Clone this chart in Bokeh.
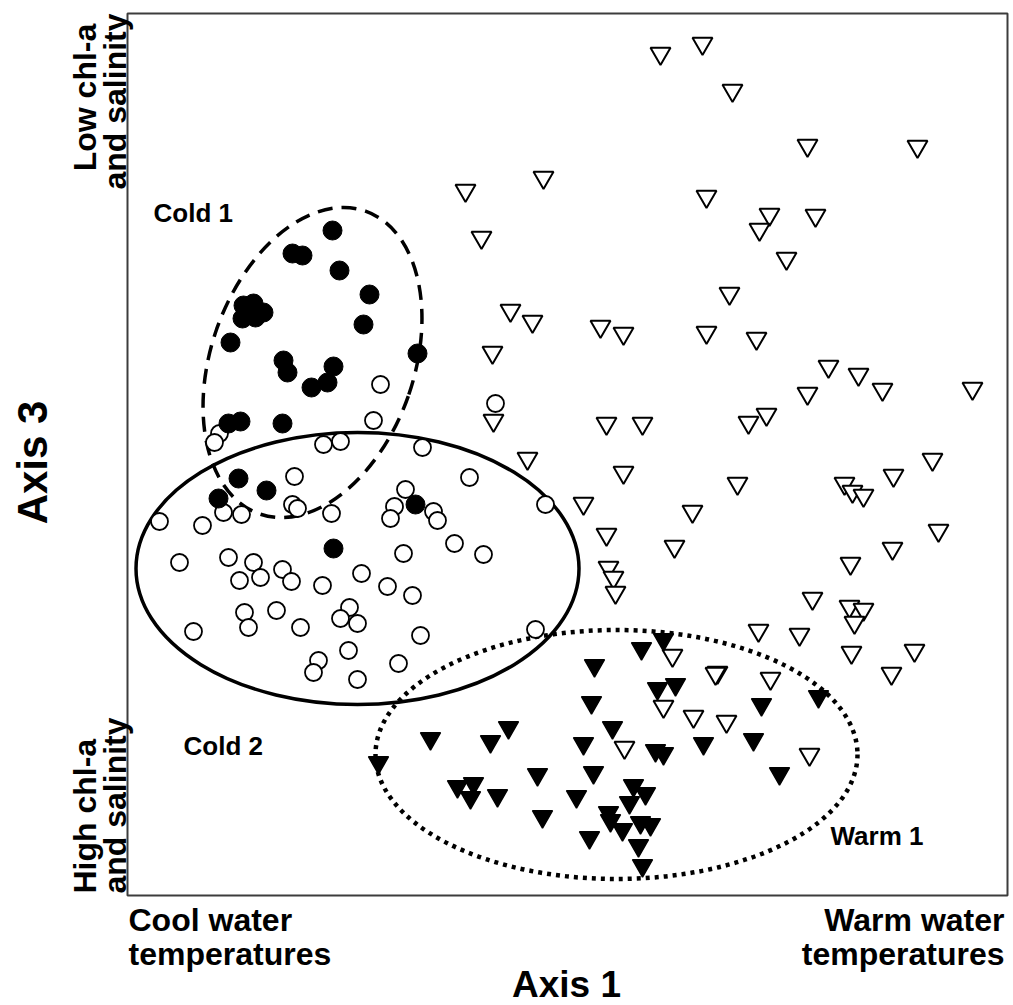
from bokeh.plotting import figure
from bokeh.models import Range1d, Label
from bokeh.embed import file_html
from bokeh.resources import INLINE

# ---- data (positions, in picture units) ----
warm_open_x = [660, 702, 732, 807, 917, 465, 543, 706, 769, 759, 815, 481, 786, 729, 510, 532, 600, 623,
               706, 492, 756, 828, 858, 882, 972, 807, 766, 748, 493, 606, 642, 527, 623, 932, 893, 737,
               844, 852, 863, 583, 692, 938, 606, 674, 892, 608, 613, 615, 850, 812, 849, 863, 854, 758,
               799, 851, 914, 717, 770, 891, 672, 715, 663, 693, 624, 726, 809]
warm_open_y = [53, 43, 90, 145, 146, 190, 177, 196, 214, 229, 215, 237, 258, 293, 310, 321, 326, 333,
               332, 352, 338, 366, 374, 389, 388, 393, 414, 422, 420, 423, 423, 458, 472, 459, 475, 483,
               483, 491, 495, 503, 511, 530, 534, 546, 548, 567, 577, 592, 563, 598, 606, 609, 622, 630,
               634, 652, 650, 672, 678, 673, 655, 673, 706, 716, 747, 721, 754]

cold1_x = [332, 292, 302, 339, 369, 243, 253, 263, 242, 255, 363, 230, 417, 283, 287, 333, 327, 311,
           228, 240, 282, 238, 266, 218, 415, 333]
cold1_y = [230, 253, 255, 270, 294, 305, 303, 312, 318, 317, 324, 342, 353, 360, 372, 366, 382, 387,
           423, 421, 423, 478, 490, 498, 504, 548]

cold2_x = [380, 373, 219, 214, 323, 340, 422, 294, 405, 394, 390, 223, 241, 292, 297, 331, 159, 202,
           179, 228, 253, 239, 260, 282, 291, 322, 361, 403, 387, 412, 193, 244, 248, 276, 300, 349,
           340, 357, 348, 318, 313, 357, 398, 420, 469, 545, 433, 437, 454, 483, 495, 535]
cold2_y = [384, 420, 433, 442, 444, 441, 447, 476, 489, 506, 518, 512, 514, 504, 508, 513, 521, 525,
           562, 557, 562, 580, 577, 569, 581, 585, 573, 553, 586, 595, 631, 612, 627, 610, 627, 607,
           618, 623, 650, 660, 672, 679, 663, 635, 477, 504, 511, 520, 543, 554, 403, 629]

warm1_x = [663, 641, 594, 657, 675, 591, 612, 508, 490, 430, 583, 655, 663, 703, 537, 593, 457, 473,
           470, 497, 633, 645, 576, 629, 608, 610, 622, 542, 640, 650, 589, 638, 642, 818, 761, 753,
           779, 378]
warm1_y = [639, 648, 665, 688, 684, 702, 727, 727, 741, 738, 743, 750, 753, 743, 774, 772, 786, 783,
           797, 795, 785, 793, 796, 802, 812, 820, 829, 816, 822, 824, 837, 845, 865, 696, 704, 739,
           773, 762]

# group ellipses: centre x, centre y, width, height, angle (deg)
ell_names = ["Cold 1", "Cold 2", "Warm 1"]
ell_x = [312, 357, 616]
ell_y = [362, 568, 754]
ell_w = [203, 443, 482]
ell_h = [321, 272, 249]
ell_a = [-19.3, 0, 0]

# plotting box of the ordination (left, right, top, bottom)
box = [127, 1007, 13, 895]

FONT = "Liberation Sans"

p = figure(width=1013, height=1005, x_range=Range1d(0, 1013), y_range=Range1d(1005, 0),
           output_backend="svg", toolbar_location=None,
           x_axis_location=None, y_axis_location=None,
           min_border=0)
p.grid.visible = False
p.outline_line_color = None
p.background_fill_color = "white"
p.border_fill_color = "white"

p.quad(left=box[0], right=box[1], top=box[2], bottom=box[3],
       fill_color=None, line_color="#3c3c3c", line_width=2)

# ellipses
p.ellipse(x=ell_x[0], y=ell_y[0], width=ell_w[0], height=ell_h[0], angle=ell_a[0], angle_units="deg",
          fill_color=None, line_color="black", line_width=3.5, line_dash="15 9")
p.ellipse(x=ell_x[1], y=ell_y[1], width=ell_w[1], height=ell_h[1], angle=ell_a[1], angle_units="deg",
          fill_color=None, line_color="black", line_width=3.5)
p.ellipse(x=ell_x[2], y=ell_y[2], width=ell_w[2], height=ell_h[2], angle=ell_a[2], angle_units="deg",
          fill_color=None, line_color="black", line_width=4.5, line_dash="4 5")

# markers
p.scatter(warm_open_x, warm_open_y, marker="inverted_triangle", size=20,
          fill_color="white", line_color="black", line_width=2)
p.scatter(cold2_x, cold2_y, marker="circle", size=17,
          fill_color="white", line_color="black", line_width=1.8)
p.scatter(cold1_x, cold1_y, marker="circle", size=19,
          fill_color="black", line_color="black", line_width=1)
p.scatter(warm1_x, warm1_y, marker="inverted_triangle", size=20,
          fill_color="black", line_color="black", line_width=1.5)

def lab(x, y, text, size, align="left", angle=0):
    p.add_layout(Label(x=x, y=y, text=text, text_font=FONT, text_font_style="bold",
                       text_font_size=f"{size}px", text_align=align, text_baseline="middle",
                       text_color="black", angle=angle, angle_units="deg"))

# group labels
lab(153, 212, ell_names[0], 26)
lab(183, 745, ell_names[1], 26)
lab(830, 835, ell_names[2], 26)

# axis end labels
lab(128, 919, "Cool water", 32)
lab(128, 953, "temperatures", 32)
lab(1004, 919, "Warm water", 32, align="right")
lab(1004, 953, "temperatures", 32, align="right")
lab(566, 984, "Axis 1", 37, align="center")

lab(32, 462, "Axis 3", 42, align="center", angle=90)
lab(84, 97, "Low chl-a", 32, align="center", angle=90)
lab(114, 101, "and salinity", 32, align="center", angle=90)
lab(84, 893, "High chl-a", 32, align="left", angle=90)
lab(114, 893, "and salinity", 32, align="left", angle=90)

open("out.html", "w").write(file_html(p, INLINE))
